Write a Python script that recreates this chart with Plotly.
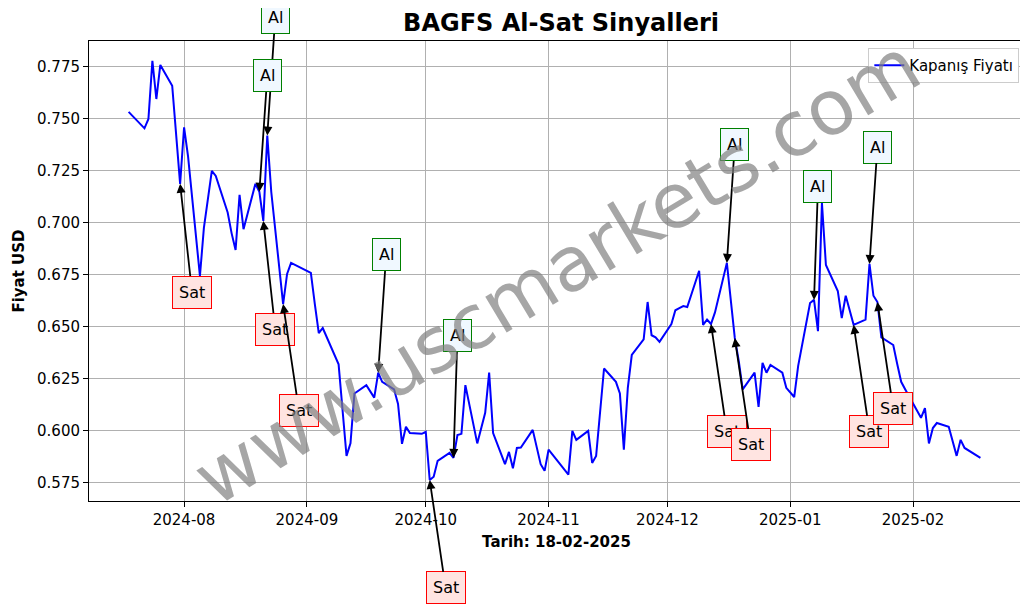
import plotly.graph_objects as go

dates = ["2024-07-18","2024-07-22","2024-07-23","2024-07-24","2024-07-25","2024-07-26","2024-07-29","2024-07-31",
"2024-08-01","2024-08-02","2024-08-05","2024-08-06","2024-08-08","2024-08-09","2024-08-12","2024-08-13","2024-08-14",
"2024-08-15","2024-08-16","2024-08-19","2024-08-20","2024-08-21","2024-08-22","2024-08-23","2024-08-26","2024-08-27",
"2024-08-28","2024-09-02","2024-09-03","2024-09-04","2024-09-05","2024-09-09","2024-09-11","2024-09-12","2024-09-13",
"2024-09-16","2024-09-18","2024-09-19","2024-09-20","2024-09-23","2024-09-24","2024-09-25","2024-09-26","2024-09-27",
"2024-09-30","2024-10-01","2024-10-02","2024-10-03","2024-10-04","2024-10-07","2024-10-08","2024-10-09","2024-10-10",
"2024-10-11","2024-10-14","2024-10-16","2024-10-17","2024-10-18","2024-10-21","2024-10-22","2024-10-23","2024-10-24",
"2024-10-25","2024-10-28","2024-10-30","2024-10-31","2024-11-01","2024-11-04","2024-11-06","2024-11-07","2024-11-08",
"2024-11-11","2024-11-12","2024-11-13","2024-11-14","2024-11-15","2024-11-18","2024-11-19","2024-11-20","2024-11-21",
"2024-11-22","2024-11-25","2024-11-26","2024-11-27","2024-11-28","2024-11-29","2024-12-02","2024-12-03","2024-12-04",
"2024-12-05","2024-12-06","2024-12-09","2024-12-10","2024-12-11","2024-12-12","2024-12-13","2024-12-16","2024-12-17",
"2024-12-18","2024-12-19","2024-12-20","2024-12-23","2024-12-24","2024-12-25","2024-12-26","2024-12-27","2024-12-30",
"2024-12-31","2025-01-02","2025-01-03","2025-01-06","2025-01-07","2025-01-08","2025-01-09","2025-01-10","2025-01-13",
"2025-01-14","2025-01-15","2025-01-17","2025-01-20","2025-01-21","2025-01-22","2025-01-23","2025-01-24","2025-01-27",
"2025-01-28","2025-01-29","2025-01-30","2025-02-03","2025-02-04","2025-02-05","2025-02-06","2025-02-07","2025-02-10",
"2025-02-12","2025-02-13","2025-02-14","2025-02-18"]
prices = [0.7534,0.7455,0.750,0.778,0.7596,0.776,0.766,0.7188,
0.746,0.732,0.6745,0.6976,0.725,0.7226,0.705,0.695,0.687,
0.7135,0.697,0.7188,0.715,0.701,0.742,0.715,0.661,0.6755,
0.6808,0.676,0.661,0.647,0.6495,0.632,0.588,0.594,0.618,
0.622,0.616,0.628,0.6236,0.620,0.613,0.5938,0.602,0.599,
0.5986,0.5996,0.5764,0.578,0.5856,0.5894,0.587,0.598,0.5986,
0.622,0.594,0.6087,0.628,0.599,0.584,0.5899,0.582,0.5918,
0.592,0.6005,0.584,0.5808,0.591,0.584,0.579,0.600,0.5957,
0.600,0.5846,0.588,0.611,0.630,0.6236,0.618,0.591,0.6207,
0.6365,0.644,0.662,0.646,0.645,0.6428,0.6514,0.658,0.659,
0.660,0.6596,0.677,0.651,0.6535,0.6514,0.657,0.6808,0.661,
0.6447,0.6337,0.620,0.628,0.6115,0.6327,0.628,0.6317,0.628,
0.6207,0.6163,0.6313,0.6615,0.663,0.648,0.7096,0.6798,0.6673,
0.6543,0.665,0.651,0.6535,0.6803,0.665,0.662,0.645,0.6413,
0.6322,0.6236,0.620,0.6063,0.611,0.594,0.6014,0.6038,0.602,
0.588,0.5957,0.5918,0.587]

sat_dates = ["2024-07-31","2024-08-21","2024-08-26","2024-10-02","2024-12-12","2024-12-18","2025-01-17","2025-01-23"]
sat_text_dates = ["2024-08-03","2024-08-24","2024-08-30","2024-10-06","2024-12-16","2024-12-22","2025-01-21","2025-01-27"]
sat_text_vals = [0.6668,0.649,0.6096,0.5245,0.5995,0.5933,0.5995,0.6106]
al_dates = ["2024-08-22","2024-08-20","2024-09-19","2024-10-08","2024-12-16","2025-01-07","2025-01-21"]
al_text_dates = ["2024-08-24","2024-08-22","2024-09-21","2024-10-09","2024-12-18","2025-01-08","2025-01-23"]
al_text_vals = [0.7986,0.7707,0.6846,0.6457,0.7375,0.7173,0.7365]

price_of = dict(zip(dates, prices))

fig = go.Figure()
fig.add_trace(go.Scatter(x=dates, y=prices, mode="lines", line=dict(color="blue", width=2),
                         name="Kapanış Fiyatı"))

anns = []
def add(d, td, tv, txt, border, bg):
    anns.append(dict(x=d, y=price_of[d], xref="x", yref="y", ax=td, ay=tv, axref="x", ayref="y",
                     text=txt, showarrow=True, arrowhead=2, arrowsize=1, arrowwidth=1.8, arrowcolor="black",
                     font=dict(size=16, color="black", family="DejaVu Sans"),
                     bordercolor=border, bgcolor=bg, borderwidth=1, borderpad=6))
for d, td, tv in zip(sat_dates, sat_text_dates, sat_text_vals):
    add(d, td, tv, "Sat", "red", "mistyrose")
for d, td, tv in zip(al_dates, al_text_dates, al_text_vals):
    add(d, td, tv, "Al", "green", "aliceblue")

anns.append(dict(x=0.5, y=0.5, xref="paper", yref="paper", text="www.uscmarkets.com", showarrow=False,
                 textangle=-31, font=dict(size=76, color="rgba(128,128,128,0.7)", family="DejaVu Sans")))

fig.update_layout(
    width=1028, height=605, paper_bgcolor="white", plot_bgcolor="white",
    margin=dict(l=81, r=12, t=33, b=112, autoexpand=False),
    title=dict(text="<b>BAGFS Al-Sat Sinyalleri</b>", x=0.538, xanchor="center", y=0.99, yanchor="top",
               font=dict(size=24, color="black", family="DejaVu Sans")),
    font=dict(family="DejaVu Sans", size=15, color="black"),
    annotations=anns,
    showlegend=True,
    legend=dict(x=0.995, y=0.985, xanchor="right", yanchor="top", bordercolor="#cccccc", borderwidth=1,
                bgcolor="white", font=dict(size=15)),
    xaxis=dict(range=["2024-07-08", "2025-03-01"], tickformat="%Y-%m", dtick="M1", tick0="2024-08-01",
               showgrid=True, gridcolor="#b0b0b0", showline=True, linecolor="black", mirror=True,
               ticks="outside", tickcolor="black", automargin=False,
               title=dict(text="<b>Tarih: 18-02-2025</b>", font=dict(size=15), standoff=8)),
    yaxis=dict(range=[0.5663, 0.7875], tickformat=".3f", dtick=0.025, tick0=0.575,
               showgrid=True, gridcolor="#b0b0b0", showline=True, linecolor="black", mirror=True,
               ticks="outside", tickcolor="black", automargin=False,
               title=dict(text="<b>Fiyat USD</b>", font=dict(size=15), standoff=8)),
)
fig.write_html("out.html")
